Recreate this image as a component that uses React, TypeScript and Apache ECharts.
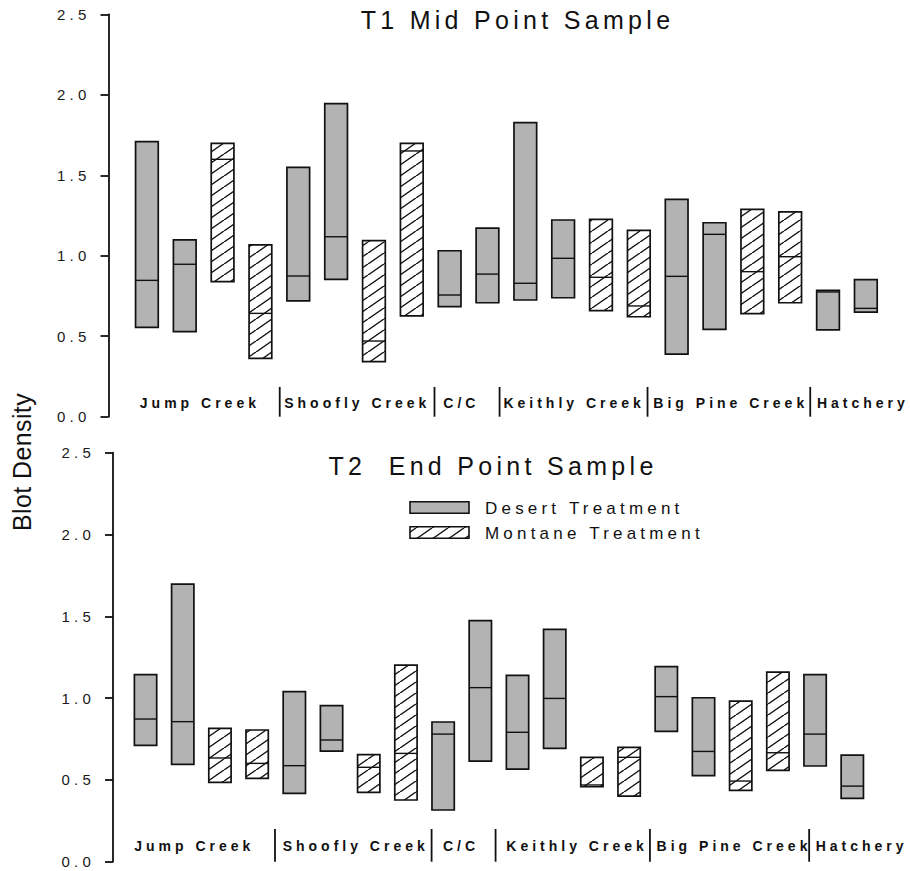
import React, { useEffect, useRef } from "react";
import * as echarts from "echarts";

// ---------- data ----------
const groups = ["Jump Creek", "Shoofly Creek", "C/C", "Keithly Creek", "Big Pine Creek", "Hatchery"];
const treatments = ["Desert Treatment", "Montane Treatment"];
const panelTitles = ["T1 Mid Point Sample", "T2  End Point Sample"];
const yTickValues = [0, 0.5, 1.0, 1.5, 2.0, 2.5];
const yAxisName = "Blot Density";
// 0 = Desert, 1 = Montane, one entry per box (left to right)
const boxTreatment = [0, 0, 1, 1, 0, 0, 1, 1, 0, 0, 0, 0, 1, 1, 0, 0, 1, 1, 0, 0];

// T1 Mid Point Sample: min, median, max of each box
const t1Low = [0.555, 0.528, 0.839, 0.362, 0.719, 0.853, 0.342, 0.626, 0.684, 0.708, 0.725, 0.739, 0.659, 0.621, 0.389, 0.543, 0.64, 0.708, 0.539, 0.65];
const t1Median = [0.847, 0.947, 1.599, 0.642, 0.874, 1.118, 0.47, 1.651, 0.756, 0.886, 0.829, 0.984, 0.866, 0.688, 0.872, 1.133, 0.901, 0.994, 0.775, 0.673];
const t1High = [1.709, 1.098, 1.698, 1.067, 1.549, 1.945, 1.094, 1.698, 1.031, 1.172, 1.827, 1.222, 1.226, 1.158, 1.35, 1.205, 1.288, 1.272, 0.785, 0.851];

// T2 End Point Sample
const t2Low = [0.711, 0.595, 0.485, 0.509, 0.418, 0.676, 0.424, 0.377, 0.316, 0.615, 0.566, 0.693, 0.458, 0.401, 0.797, 0.526, 0.436, 0.558, 0.585, 0.387];
const t2Median = [0.872, 0.856, 0.634, 0.601, 0.587, 0.744, 0.577, 0.662, 0.78, 1.064, 0.791, 0.998, 0.469, 0.638, 1.009, 0.674, 0.493, 0.666, 0.78, 0.462];
const t2High = [1.143, 1.697, 0.815, 0.805, 1.039, 0.954, 0.654, 1.202, 0.854, 1.473, 1.139, 1.42, 0.638, 0.699, 1.192, 1.002, 0.982, 1.159, 1.143, 0.652];

// ---------- layout (in box-index units) ----------
const t1SeparatorAt = [3.51, 7.6, 9.32, 13.23, 17.53];
const t1GroupLabelAt = [1.4, 5.56, 8.31, 11.29, 15.43, 18.92];
const t2SeparatorAt = [3.48, 7.69, 9.41, 13.56, 17.84];
const t2GroupLabelAt = [1.31, 5.65, 8.48, 11.6, 15.82, 19.25];

const FONT = '"Liberation Sans", Arial, Helvetica, sans-serif';
const DESERT_FILL = "#b3b3b3";
const INK = "#111111";

function makeHatch() {
  const w = 16, h = 11;
  const c = document.createElement("canvas");
  c.width = w;
  c.height = h;
  const g = c.getContext("2d")!;
  g.fillStyle = "#ffffff";
  g.fillRect(0, 0, w, h);
  g.strokeStyle = "#111111";
  g.lineWidth = 1.4;
  for (const dx of [-w, 0, w]) {
    g.beginPath();
    g.moveTo(dx, h);
    g.lineTo(dx + w, 0);
    g.stroke();
  }
  return { image: c, repeat: "repeat", imageWidth: w, imageHeight: h } as any;
}

export default function App() {
  const ref = useRef<HTMLDivElement>(null);

  useEffect(() => {
    if (!ref.current) return;
    const chart = echarts.init(ref.current, null, { renderer: "svg" });
    const hatch = makeHatch();

    const boxData = (lo: number[], md: number[], hi: number[]) =>
      lo.map((v, i) => [i, v, md[i], hi[i], boxTreatment[i]]);

    const boxSeries = (gi: number, lo: number[], md: number[], hi: number[]) => ({
      type: "custom",
      xAxisIndex: gi,
      yAxisIndex: gi,
      silent: true,
      clip: false,
      encode: { x: 0, y: [1, 3] },
      data: boxData(lo, md, hi),
      renderItem: (_p: any, api: any) => {
        const i = api.value(0);
        const tl = api.coord([i - 0.3, api.value(3)]);
        const br = api.coord([i + 0.3, api.value(1)]);
        const m = api.coord([i, api.value(2)]);
        const tr = api.value(4);
        return {
          type: "group",
          children: [
            {
              type: "rect",
              shape: { x: tl[0], y: tl[1], width: br[0] - tl[0], height: br[1] - tl[1] },
              style: { fill: tr === 1 ? hatch : DESERT_FILL, stroke: INK, lineWidth: 1.7 },
            },
            {
              type: "line",
              shape: { x1: tl[0], y1: m[1], x2: br[0], y2: m[1] },
              style: { stroke: INK, lineWidth: 1.4 },
            },
          ],
        };
      },
    });

    const sepSeries = (gi: number, seps: number[], top: number) => ({
      type: "custom",
      xAxisIndex: gi,
      yAxisIndex: gi,
      silent: true,
      clip: false,
      data: seps.map((s) => [s, 0, top]),
      renderItem: (_p: any, api: any) => {
        const a = api.coord([api.value(0), api.value(1)]);
        const b = api.coord([api.value(0), api.value(2)]);
        return {
          type: "line",
          shape: { x1: a[0], y1: a[1], x2: b[0], y2: b[1] },
          style: { stroke: INK, lineWidth: 1.8 },
        };
      },
    });

    const labelSeries = (gi: number, pos: number[], yv: number) => ({
      type: "custom",
      xAxisIndex: gi,
      yAxisIndex: gi,
      silent: true,
      clip: false,
      data: pos.map((p, k) => [p, yv, k]),
      renderItem: (_p: any, api: any) => {
        const c = api.coord([api.value(0), api.value(1)]);
        return {
          type: "text",
          x: c[0],
          y: c[1],
          style: {
            text: groups[api.value(2)],
            fill: INK,
            font: `bold 14px ${FONT}`,
            textAlign: "center",
            textVerticalAlign: "middle",
          },
        };
      },
    });

    const yAxisCommon = {
      type: "value",
      min: yTickValues[0],
      max: yTickValues[yTickValues.length - 1],
      interval: 0.5,
      axisLine: { show: true, onZero: false, lineStyle: { color: INK, width: 1.8 } },
      axisTick: { show: true, length: 8, lineStyle: { color: INK, width: 1.8 } },
      axisLabel: {
        margin: 18,
        fontSize: 15,
        fontFamily: FONT,
        color: "#1a1a1a",
        formatter: (v: number) => v.toFixed(1),
      },
      splitLine: { show: false },
    };

    const option: any = {
      animation: false,
      backgroundColor: "#ffffff",
      grid: [
        { left: 108.5, top: 14.3, width: 795.2, height: 402.4 },
        { left: 113, top: 452.7, width: 776.5, height: 409 },
      ],
      xAxis: [
        { gridIndex: 0, type: "value", min: -1.015, max: 20, show: false },
        { gridIndex: 1, type: "value", min: -0.875, max: 20, show: false },
      ],
      yAxis: [
        { ...yAxisCommon, gridIndex: 0 },
        { ...yAxisCommon, gridIndex: 1 },
      ],
      series: [
        boxSeries(0, t1Low, t1Median, t1High),
        boxSeries(1, t2Low, t2Median, t2High),
        sepSeries(0, t1SeparatorAt, 0.185),
        sepSeries(1, t2SeparatorAt, 0.2),
        labelSeries(0, t1GroupLabelAt, 0.085),
        labelSeries(1, t2GroupLabelAt, 0.096),
      ],
      graphic: [
        {
          type: "text",
          x: 517.5,
          y: 20,
          style: { text: panelTitles[0], font: `25px ${FONT}`, fill: INK, textAlign: "center", textVerticalAlign: "middle" },
        },
        {
          type: "text",
          x: 493,
          y: 466,
          style: { text: panelTitles[1], font: `25px ${FONT}`, fill: INK, textAlign: "center", textVerticalAlign: "middle" },
        },
        {
          type: "text",
          x: 22,
          y: 462,
          rotation: Math.PI / 2,
          style: { text: yAxisName, font: `25px ${FONT}`, fill: INK, textAlign: "center", textVerticalAlign: "middle" },
        },
        {
          type: "rect",
          shape: { x: 410, y: 501.7, width: 59, height: 11.6 },
          style: { fill: DESERT_FILL, stroke: INK, lineWidth: 1.6 },
        },
        {
          type: "rect",
          shape: { x: 410, y: 526.7, width: 59, height: 11.6 },
          style: { fill: hatch, stroke: INK, lineWidth: 1.6 },
        },
        {
          type: "text",
          x: 485,
          y: 508,
          style: { text: treatments[0], font: `17px ${FONT}`, fill: INK, textAlign: "left", textVerticalAlign: "middle" },
        },
        {
          type: "text",
          x: 485,
          y: 533,
          style: { text: treatments[1], font: `17px ${FONT}`, fill: INK, textAlign: "left", textVerticalAlign: "middle" },
        },
      ],
    };

    chart.setOption(option);

    const applySpacing = () => {
      ref.current?.querySelectorAll("text").forEach((t) => {
        const txt = t.textContent || "";
        const fs = parseFloat(getComputedStyle(t).fontSize) || 12;
        const bold = (getComputedStyle(t).fontWeight || "") === "700" || (t.getAttribute("style") || "").includes("bold");
        let ls = 4.5;
        if (txt === yAxisName) ls = 0.4;
        else if (fs >= 22) ls = 4.3;
        else if (fs >= 16) ls = 4.2;
        else if (bold) ls = 4.0;
        else ls = 4.2;
        t.setAttribute("letter-spacing", String(ls));
      });
    };
    applySpacing();
    chart.on("finished", applySpacing);

    return () => {
      chart.dispose();
    };
  }, []);

  return (
    <div
      ref={ref}
      style={{ position: "absolute", left: 0, top: 0, width: 910, height: 871, background: "#fff" }}
    />
  );
}
